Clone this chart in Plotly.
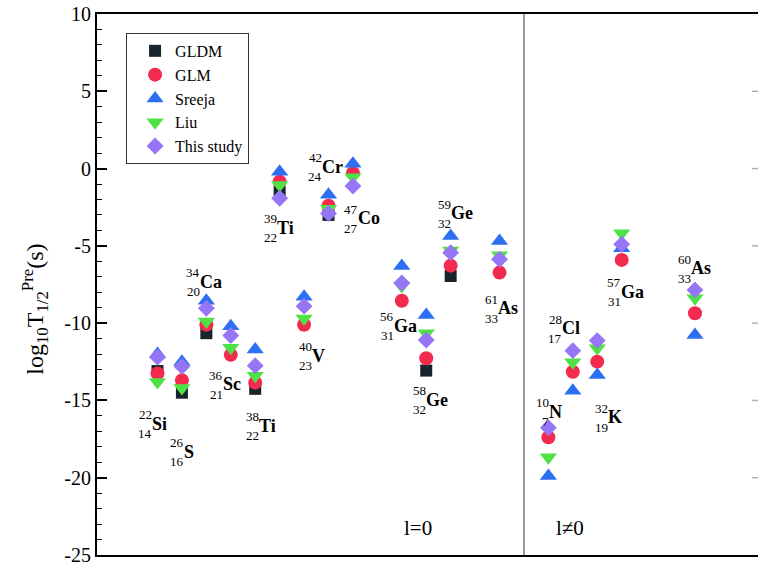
import plotly.graph_objects as go

# ---------------- data ----------------
mass = [22, 26, 34, 36, 38, 39, 40, 47, 42, 56, 58, 59, 61, 10, 28, 32, 57, 60]
charge = [14, 16, 20, 21, 22, 22, 23, 27, 24, 31, 32, 32, 33, 7, 17, 19, 31, 33]
element = ["Si", "S", "Ca", "Sc", "Ti", "Ti", "V", "Co", "Cr", "Ga", "Ge", "Ge", "As",
           "N", "Cl", "K", "Ga", "As"]
x_index = [1, 2, 3, 4, 5, 6, 7, 8, 9, 11, 12, 13, 15, 17, 18, 19, 20, 23]

gldm = [-13.1, -14.5, -10.65, None, -14.25, -1.5, None, -3.0, None, None, -13.07, -6.95, None,
        None, None, None, None, None]
glm = [-13.25, -13.7, -10.1, -12.05, -13.85, -0.85, -10.1, -2.4, -0.28, -8.55, -12.27, -6.28, -6.73,
       -17.39, -13.14, -12.49, -5.91, -9.36]
sreeja = [-12.0, -12.5, -8.55, -10.2, -11.7, -0.2, -8.3, -1.7, 0.32, -6.3, -9.47, -4.36, -4.68,
          -19.89, -14.37, -13.35, -5.16, -10.77]
liu = [-13.8, -14.2, -9.9, -11.6, -13.4, -1.06, -9.7, -2.6, -0.56, -7.6, -10.66, -5.3, -5.6,
       -18.68, -12.53, -11.63, -4.19, -8.39]
this_study = [-12.2, -12.8, -9.04, -10.8, -12.75, -1.92, -8.9, -2.9, -1.13, -7.4, -11.09, -5.44, -5.87,
              -16.76, -11.78, -11.13, -4.9, -7.85]

series_names = ["GLDM", "GLM", "Sreeja", "Liu", "This study"]
y_ticks = [-25, -20, -15, -10, -5, 0, 5, 10]
y_tick_labels = ["-25", "-20", "-15", "-10", "-5", "0", "5", "10"]
region_labels = ["l=0", "l\u22600"]

# ---------------- layout helpers (positions/styles) ----------------
label_pos = [(0.72, -16.52), (2.04, -18.33), (2.70, -7.32), (3.63, -13.94), (5.11, -16.65),
             (5.84, -3.82), (7.27, -12.12), (9.15, -3.22), (7.68, 0.12), (10.65, -10.18),
             (11.95, -14.97), (12.97, -2.89), (14.88, -9.04), (17.0, -15.73), (17.50, -10.33),
             (19.41, -16.09), (19.93, -7.96), (22.80, -6.45)]
region_pos = [(11.66, -23.25), (17.88, -23.25)]
separator_x = 16

FONT = "Liberation Serif"
styles = [
    dict(symbol="square", size=12, color="#17242c"),
    dict(symbol="circle", size=14, color="#f22a4e"),
    dict(symbol="triangle-up", size=15, color="#2d6ff2"),
    dict(symbol="triangle-down", size=15, color="#4fe246"),
    dict(symbol="diamond", size=13, color="#9676f4"),
]

fig = go.Figure()
for name, vals, st in zip(series_names, [gldm, glm, sreeja, liu, this_study], styles):
    fig.add_trace(go.Scatter(
        x=x_index, y=vals, mode="markers", name=name,
        marker=dict(symbol=st["symbol"], size=st["size"], color=st["color"],
                    line=dict(width=0)),
    ))

annotations = []
for (lx, ly), a, z, el in zip(label_pos, mass, charge, element):
    annotations.append(dict(x=lx, y=ly, xref="x", yref="y", text=f"<b>{el}</b>",
                            xanchor="left", yanchor="middle", showarrow=False, borderpad=0,
                            font=dict(family=FONT, size=18, color="black")))
    annotations.append(dict(x=lx, y=ly, xref="x", yref="y", text=str(a),
                            xanchor="right", yanchor="middle", showarrow=False, borderpad=0,
                            yshift=9, xshift=2,
                            font=dict(family=FONT, size=13, color="black")))
    annotations.append(dict(x=lx, y=ly, xref="x", yref="y", text=str(z),
                            xanchor="right", yanchor="middle", showarrow=False, borderpad=0,
                            yshift=-10, xshift=2,
                            font=dict(family=FONT, size=13, color="black")))

for (rx, ry), txt in zip(region_pos, region_labels):
    annotations.append(dict(x=rx, y=ry, xref="x", yref="y", text=txt, showarrow=False,
                            xanchor="center", yanchor="middle",
                            font=dict(family=FONT, size=21, color="black")))

annotations.append(dict(x=-0.094, y=0.455, xref="paper", yref="paper",
                        text="log<sub>10</sub>T<sub>1/2</sub><sup>Pre</sup>(s)",
                        textangle=-90, showarrow=False, xanchor="center", yanchor="middle",
                        font=dict(family=FONT, size=24, color="black")))

shapes = [dict(type="line", xref="x", yref="paper", x0=separator_x, x1=separator_x, y0=0, y1=1,
               line=dict(color="#7a7a7a", width=1.5))]
for t in y_ticks[1:-1]:
    shapes.append(dict(type="line", xref="paper", yref="y", x0=0.991, x1=1.0, y0=t, y1=t,
                       line=dict(color="#b0b0b0", width=1.5)))

fig.update_layout(
    width=758, height=566,
    margin=dict(l=97, r=0, t=14, b=11, autoexpand=False),
    paper_bgcolor="white", plot_bgcolor="white",
    font=dict(family=FONT, color="black"),
    showlegend=True,
    legend=dict(x=0.044, y=0.965, xanchor="left", yanchor="top",
                bgcolor="white", bordercolor="#333333", borderwidth=1,
                font=dict(family=FONT, size=16, color="black"),
                indentation=8, itemsizing="trace"),
    annotations=annotations,
    shapes=shapes,
)
fig.update_xaxes(range=[-1.476, 25.58], showticklabels=False, ticks="", showgrid=False,
                 automargin=False,
                 zeroline=False, showline=True, mirror=True, linecolor="black", linewidth=2)
fig.update_yaxes(range=[-25, 10], tickvals=y_ticks, ticktext=y_tick_labels,
                 ticks="inside", ticklen=10, tickwidth=1.5, tickcolor="black",
                 ticklabeloverflow="allow", automargin=False,
                 minor=dict(ticks="inside", ticklen=5, tickwidth=1.2, dtick=1, tickcolor="black"),
                 showgrid=False, zeroline=False, showline=True, linecolor="black", linewidth=2,
                 tickfont=dict(family=FONT, size=20, color="black"))

# remove the default 8px page margin so the figure fills the window exactly
fig.write_html("out.html", config={"displayModeBar": False},
               post_script="document.body.style.margin='0';document.body.style.overflow='hidden';")
